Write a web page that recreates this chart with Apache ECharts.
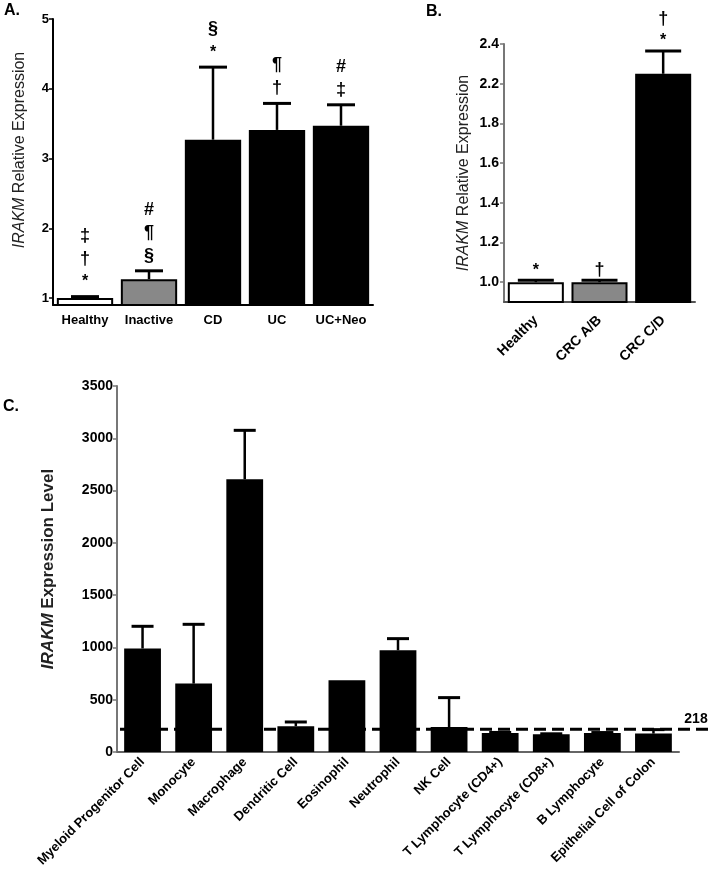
<!DOCTYPE html>
<html><head><meta charset="utf-8">
<script src="https://cdn.jsdelivr.net/npm/echarts@6/dist/echarts.min.js"></script>
<style>html,body{margin:0;padding:0;background:#fff}#c{width:711px;height:895px}</style>
</head><body><div id="c"></div><script>
// ---------- Panel A ----------
const aCategories = ['Healthy', 'Inactive', 'CD', 'UC', 'UC+Neo'];
const aValues = [1.0, 1.27, 3.27, 3.41, 3.47];
const aErrors = [0.02, 0.12, 1.04, 0.38, 0.30];
const aSignif = [['*', '†', '‡'], ['§', '¶', '#'], ['*', '§'], ['†', '¶'], ['‡', '#']];
const aTicks = [1, 2, 3, 4, 5];
// ---------- Panel B ----------
const bCategories = ['Healthy', 'CRC A/B', 'CRC C/D'];
const bValues = [1.0, 1.0, 2.25];
const bErrors = [0.01, 0.01, 0.115];
const bSignif = [['*'], ['†'], ['*', '†']];
const bTicks = [1.0, 1.2, 1.4, 1.6, 1.8, 2.2, 2.4];
// ---------- Panel C ----------
const cCategories = ['Myeloid Progenitor Cell', 'Monocyte', 'Macrophage', 'Dendritic Cell', 'Eosinophil', 'Neutrophil', 'NK Cell', 'T Lymphocyte (CD4+)', 'T Lymphocyte (CD8+)', 'B Lymphocyte', 'Epithelial Cell of Colon'];
const cValues = [990, 654, 2608, 246, 686, 973, 239, 182, 169, 182, 176];
const cErrors = [212, 567, 468, 41, 0, 111, 281, 5, 5, 4, 38];
const cThreshold = 218;
const cTicks = [0, 500, 1000, 1500, 2000, 2500, 3000, 3500];

// Panel B y axis is discontinuous (no 2.0 step between 1.8 and 2.2)
const bShift = 0.2;
const toAxisB = v => (v > 2.0 ? v - bShift : v);
const fromAxisB = a => (a > 1.9 ? a + bShift : a);

const FONT = '"Liberation Sans", Arial, sans-serif';

function errorBarRender(capW, lw) {
  return function (params, api) {
    const i = api.value(0), v = api.value(1), e = api.value(2);
    if (!(e > 0)) return { type: 'group', children: [] };
    const p0 = api.coord([i, v]);
    const p1 = api.coord([i, v + e]);
    return {
      type: 'group', children: [
        { type: 'line', shape: { x1: p0[0], y1: p0[1], x2: p1[0], y2: p1[1] }, style: { stroke: '#000', lineWidth: lw } },
        { type: 'line', shape: { x1: p1[0] - capW / 2, y1: p1[1], x2: p1[0] + capW / 2, y2: p1[1] }, style: { stroke: '#000', lineWidth: lw + 0.5 } }
      ]
    };
  };
}
function signifRender(symbols, offset, spacing, size) {
  return function (params, api) {
    const i = api.value(0), top = api.value(1);
    const p = api.coord([i, top]);
    const syms = symbols[params.dataIndex];
    return {
      type: 'group', children: syms.map((s, k) => ({
        type: 'text', x: p[0], y: p[1] - offset - k * spacing,
        style: { text: s, fill: '#000', fontSize: s === '*' ? size - 2 : size, fontWeight: 'bold', fontFamily: FONT, align: 'center', verticalAlign: 'middle' }
      }))
    };
  };
}

const axisLabelBold = (size) => ({ color: '#000', fontSize: size, fontWeight: 'bold', fontFamily: FONT });

const chart = echarts.init(document.getElementById('c'), null, { renderer: 'canvas' });
const option = {
  animation: false,
  backgroundColor: '#fff',
  grid: [
    { left: 53, top: 19, width: 320, height: 286, outerBoundsMode: 'none' },
    { left: 504, top: 44, width: 191, height: 258, outerBoundsMode: 'none' },
    { left: 117, top: 386, width: 562, height: 366, outerBoundsMode: 'none' },
    { left: 120, top: 386, right: 0, height: 366, outerBoundsMode: 'none' }
  ],
  xAxis: [
    { type: 'category', gridIndex: 0, data: aCategories,
      axisLine: { lineStyle: { color: '#000', width: 2 } },
      axisTick: { alignWithLabel: true, length: 4, lineStyle: { color: '#000', width: 1.5 } },
      axisLabel: Object.assign(axisLabelBold(13), { margin: 9, interval: 0 }) },
    { type: 'category', gridIndex: 1, data: bCategories,
      axisLine: { lineStyle: { color: '#555', width: 2 } },
      axisTick: { alignWithLabel: true, length: 4, lineStyle: { color: '#555', width: 1.5 } },
      axisLabel: Object.assign(axisLabelBold(14), { rotate: 45, margin: 16, interval: 0 }) },
    { type: 'category', gridIndex: 2, data: cCategories,
      axisLine: { lineStyle: { color: '#666', width: 2 } },
      axisTick: { alignWithLabel: true, length: 5, lineStyle: { color: '#666', width: 1.5 } },
      axisLabel: Object.assign(axisLabelBold(13), { rotate: 45, margin: 8, interval: 0 }) },
    { type: 'value', gridIndex: 3, min: 0, max: 1, show: false }
  ],
  yAxis: [
    { type: 'value', gridIndex: 0, min: 0.9, max: 5,
      name: '{i|IRAKM} Relative Expression', nameLocation: 'middle', nameGap: 25,
      nameTextStyle: { fontSize: 16, color: '#222', fontFamily: FONT, padding: [0, 0, 0, 24], rich: { i: { fontStyle: 'italic', fontSize: 16, color: '#222', fontFamily: FONT } } },
      splitLine: { show: false },
      axisLine: { show: true, lineStyle: { color: '#000', width: 2 } },
      axisTick: { show: true, length: 4, customValues: aTicks, lineStyle: { color: '#000', width: 1.5 } },
      axisLabel: Object.assign(axisLabelBold(13), { margin: 4, customValues: aTicks, formatter: v => String(Math.round(v)) }) },
    { type: 'value', gridIndex: 1, min: 0.9, max: toAxisB(2.4),
      name: '{i|IRAKM} Relative Expression', nameLocation: 'middle', nameGap: 32,
      nameTextStyle: { fontSize: 16, color: '#222', fontFamily: FONT, rich: { i: { fontStyle: 'italic', fontSize: 16, color: '#222', fontFamily: FONT } } },
      splitLine: { show: false },
      axisLine: { show: true, lineStyle: { color: '#777', width: 2 } },
      axisTick: { show: true, length: 4, customValues: bTicks.map(toAxisB), lineStyle: { color: '#777', width: 1.5 } },
      axisLabel: Object.assign(axisLabelBold(14), { margin: 5, customValues: bTicks.map(toAxisB), formatter: a => fromAxisB(a).toFixed(1) }) },
    { type: 'value', gridIndex: 2, min: 0, max: 3500, interval: 500,
      name: '{i|IRAKM} Expression Level', nameLocation: 'middle', nameGap: 60,
      nameTextStyle: { fontSize: 17, fontWeight: 'bold', color: '#222', fontFamily: FONT, rich: { i: { fontStyle: 'italic', fontWeight: 'bold', fontSize: 17, color: '#222', fontFamily: FONT } } },
      splitLine: { show: false },
      axisLine: { show: true, lineStyle: { color: '#777', width: 2 } },
      axisTick: { show: true, length: 4, lineStyle: { color: '#777', width: 1.5 } },
      axisLabel: Object.assign(axisLabelBold(14), { margin: 4, formatter: v => String(v) }) },
    { type: 'value', gridIndex: 3, min: 0, max: 3500, show: false }
  ],
  graphic: [
    { type: 'text', left: 4, top: 3, style: { text: 'A.', fontSize: 16, fontWeight: 'bold', fontFamily: FONT, fill: '#000' } },
    { type: 'text', left: 426, top: 4, style: { text: 'B.', fontSize: 16, fontWeight: 'bold', fontFamily: FONT, fill: '#000' } },
    { type: 'text', left: 3, top: 399, style: { text: 'C.', fontSize: 16, fontWeight: 'bold', fontFamily: FONT, fill: '#000' } }
  ],
  series: [
    // Panel A
    { type: 'bar', xAxisIndex: 0, yAxisIndex: 0, barWidth: '88%',
      data: aValues.map((v, i) => ({ value: v, itemStyle: { color: ['#fff', '#888', '#000', '#000', '#000'][i], borderColor: '#000', borderWidth: 2 } })) },
    { type: 'custom', xAxisIndex: 0, yAxisIndex: 0, renderItem: errorBarRender(28, 2.5), z: 3,
      data: aValues.map((v, i) => [i, v, aErrors[i]]) },
    { type: 'custom', xAxisIndex: 0, yAxisIndex: 0, renderItem: signifRender(aSignif, 15, 23, 18), z: 3,
      data: aValues.map((v, i) => [i, v + aErrors[i]]) },
    // Panel B
    { type: 'bar', xAxisIndex: 1, yAxisIndex: 1, barWidth: '88%',
      data: bValues.map((v, i) => ({ value: toAxisB(v), itemStyle: { color: ['#fff', '#888', '#000'][i], borderColor: '#000', borderWidth: 2 } })) },
    { type: 'custom', xAxisIndex: 1, yAxisIndex: 1, renderItem: errorBarRender(36, 2.5), z: 3,
      data: bValues.map((v, i) => [i, toAxisB(v), bErrors[i]]) },
    { type: 'custom', xAxisIndex: 1, yAxisIndex: 1, renderItem: signifRender(bSignif, 10, 22, 18), z: 3,
      data: bValues.map((v, i) => [i, toAxisB(v + bErrors[i])]) },
    // Panel C
    { type: 'line', xAxisIndex: 3, yAxisIndex: 3, symbol: 'circle', symbolSize: 1, showSymbol: true, z: 1,
      itemStyle: { color: 'rgba(0,0,0,0)' },
      lineStyle: { color: '#000', width: 3, type: [12, 6] },
      data: [[0, cThreshold], { value: [1, cThreshold], label: { show: true, position: 'top', distance: 3, offset: [-15, 0], formatter: String(cThreshold), color: '#000', fontSize: 14, fontWeight: 'bold', fontFamily: FONT } }] },
    { type: 'bar', xAxisIndex: 2, yAxisIndex: 2, barWidth: '72%', z: 2,
      itemStyle: { color: '#000' }, data: cValues },
    { type: 'custom', xAxisIndex: 2, yAxisIndex: 2, renderItem: errorBarRender(22, 2.5), z: 3,
      data: cValues.map((v, i) => [i, v, cErrors[i]]) }
  ]
};
chart.setOption(option);
</script></body></html>
